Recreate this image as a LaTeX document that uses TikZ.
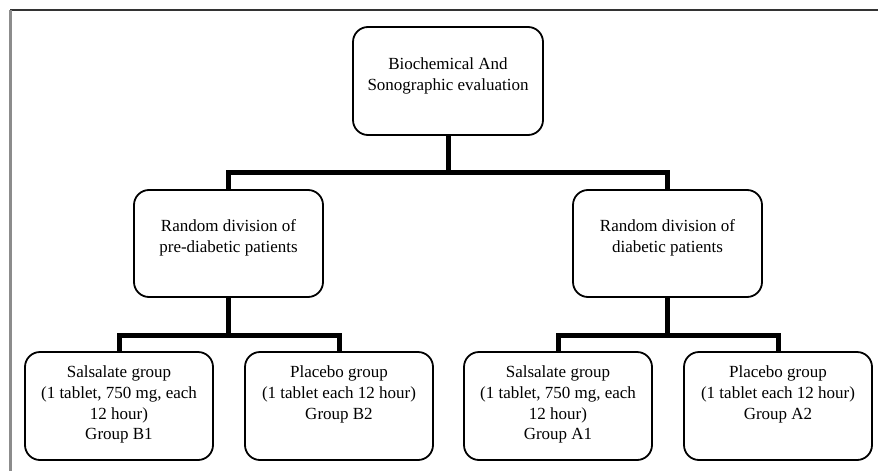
\documentclass[tikz,border=0pt]{standalone}
\usepackage{fontspec}
\setmainfont{Liberation Serif}
\usepackage{tikz}

% box text: width, height, top gap, lines
\newcommand{\boxtext}[4]{\parbox[c][#2][t]{#1}{\centering\vspace*{#3}#4}}

\begin{document}
\begin{tikzpicture}[x=1pt,y=-1pt,
  grpbox/.style={draw, line width=1.8pt, rounded corners=15pt, inner sep=0pt, font=\fontsize{17}{20.6}\selectfont},
  conn/.style={line width=5pt, line join=miter}]
\useasboundingbox (0,0) rectangle (878,471);

% frame
\draw [line width=1.5pt, color=black!80] (10,10) -- (878,10);
\draw [line width=3pt, color=black!45] (10,10) -- (10,471);

% top box
\node [grpbox] (root) at (448,81) {\boxtext{190pt}{108pt}{31pt}{Biochemical And\\Sonographic evaluation}};

% division boxes
\node [grpbox] (midL) at (228.5,243.5) {\boxtext{189pt}{107pt}{30pt}{Random division of\\pre-diabetic patients}};
\node [grpbox] (midR) at (667.5,243.5) {\boxtext{189pt}{107pt}{30pt}{Random division of\\diabetic patients}};

% group boxes
\node [grpbox] (grpB1) at (119,406) {\boxtext{188pt}{108pt}{14pt}{Salsalate group\\(1 tablet, 750 mg, each\\12 hour)\\Group B1}};
\node [grpbox] (grpB2) at (339,406) {\boxtext{188pt}{108pt}{14pt}{Placebo group\\(1 tablet each 12 hour)\\Group B2}};
\node [grpbox] (grpA1) at (558,406) {\boxtext{188pt}{108pt}{14pt}{Salsalate group\\(1 tablet, 750 mg, each\\12 hour)\\Group A1}};
\node [grpbox] (grpA2) at (778,406) {\boxtext{188pt}{108pt}{14pt}{Placebo group\\(1 tablet each 12 hour)\\Group A2}};

% connectors
\draw [conn] (root.south) -- ++(0,37) -| (midL.north);
\draw [conn] (root.south) -- ++(0,37) -| (midR.north);
\draw [conn] (midL.south) -- ++(0,38) -| (grpB1.north);
\draw [conn] (midL.south) -- ++(0,38) -| (grpB2.north);
\draw [conn] (midR.south) -- ++(0,38) -| (grpA1.north);
\draw [conn] (midR.south) -- ++(0,38) -| (grpA2.north);
\end{tikzpicture}
\end{document}
